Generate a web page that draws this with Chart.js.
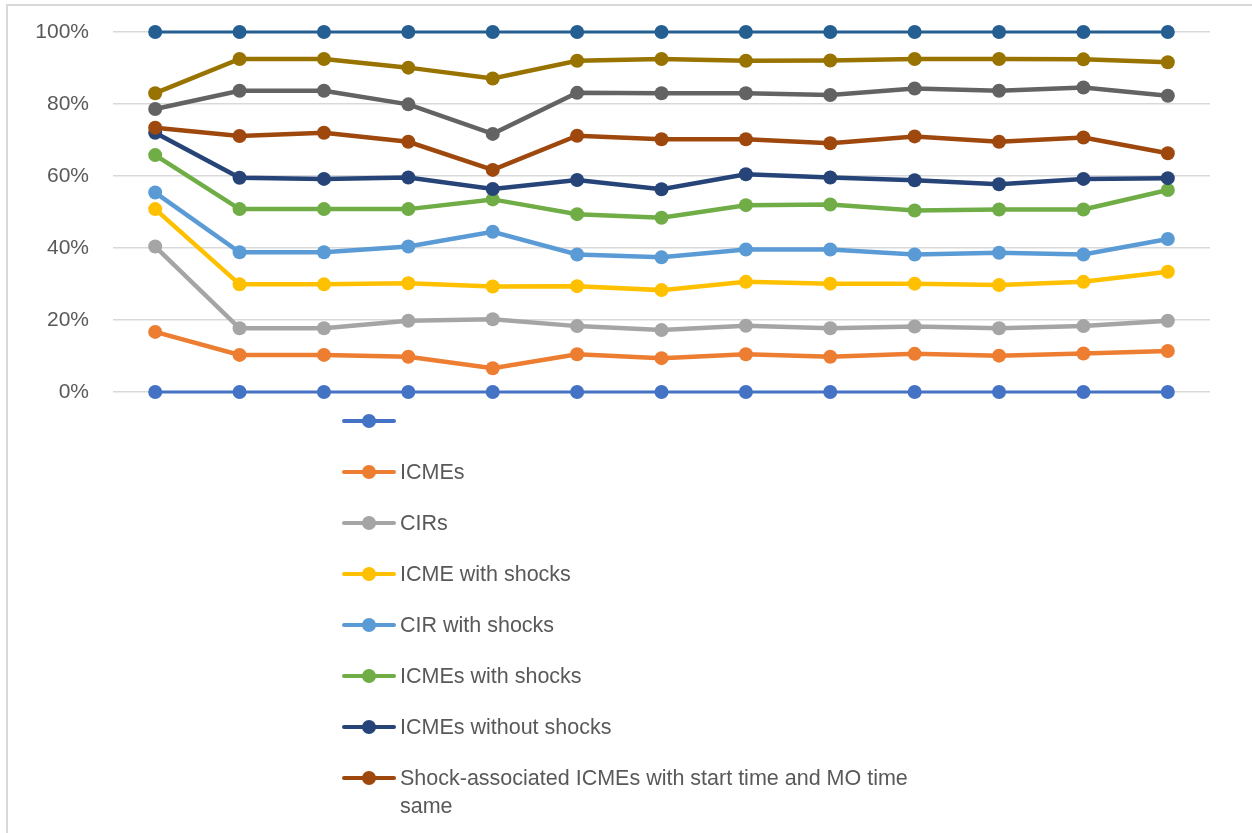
<!DOCTYPE html>
<html>
<head>
<meta charset="utf-8">
<script src="https://cdn.jsdelivr.net/npm/chart.js@4/dist/chart.umd.min.js"></script>
<style>
  html, body { margin: 0; padding: 0; background: #fff; overflow: hidden; }
  #wrap { position: relative; width: 1252px; height: 833px; }
  #frame { position: absolute; left: 6px; top: 4px; width: 1400px; height: 1000px;
           border: 2px solid #d9d9d9; box-sizing: border-box; }
  #chart { position: absolute; left: 0; top: 0; }
  #legend { position: absolute; left: 342px; top: 407px; color: #595959;
            font-family: 'Liberation Sans', Arial, sans-serif; font-size: 21.5px; }
  .item { display: flex; align-items: flex-start; min-height: 51px; line-height: 28px; }
  .mark { position: relative; flex: none; width: 54px; height: 28px; margin-right: 4px; }
  .mark::before { content: ''; position: absolute; left: 0; right: 0; top: 12px; height: 4px;
                  border-radius: 2px; background: var(--c); }
  .mark::after { content: ''; position: absolute; left: 20px; top: 7px; width: 14px; height: 14px;
                 border-radius: 50%; background: var(--c); }
  .text { max-width: 540px; }
</style>
</head>
<body>
<div id="wrap">
  <div id="frame"></div>
  <canvas id="chart" width="1252" height="833"></canvas>
  <div id="legend"></div>
</div>
<script>
// 13 unlabeled categories along x
const categories = ['', '', '', '', '', '', '', '', '', '', '', '', ''];

// values in percent
const zeroLine = [0, 0, 0, 0, 0, 0, 0, 0, 0, 0, 0, 0, 0];
const icmes = [16.7, 10.3, 10.3, 9.8, 6.6, 10.5, 9.4, 10.5, 9.8, 10.6, 10.1, 10.7, 11.4];
const cirs = [40.4, 17.7, 17.7, 19.8, 20.2, 18.3, 17.2, 18.4, 17.7, 18.2, 17.7, 18.3, 19.8];
const icmeWithShocks = [50.8, 29.9, 29.9, 30.2, 29.3, 29.4, 28.3, 30.6, 30.1, 30.1, 29.7, 30.6, 33.4];
const cirWithShocks = [55.4, 38.8, 38.8, 40.4, 44.5, 38.2, 37.4, 39.6, 39.6, 38.2, 38.7, 38.2, 42.5];
const icmesWithShocks = [65.8, 50.8, 50.8, 50.8, 53.5, 49.4, 48.4, 51.9, 52.1, 50.4, 50.7, 50.7, 56.1];
const icmesWithoutShocks = [72.0, 59.5, 59.2, 59.6, 56.4, 58.9, 56.3, 60.5, 59.6, 58.8, 57.7, 59.2, 59.4];
const shockSameTime = [73.4, 71.1, 72.0, 69.5, 61.7, 71.2, 70.2, 70.2, 69.1, 71.0, 69.5, 70.7, 66.3];
const series9 = [78.6, 83.7, 83.7, 79.9, 71.7, 83.1, 83.0, 83.0, 82.5, 84.3, 83.7, 84.6, 82.3];
const series10 = [83.0, 92.5, 92.5, 90.1, 87.1, 92.0, 92.5, 92.0, 92.1, 92.5, 92.5, 92.4, 91.6];
const topLine = [100, 100, 100, 100, 100, 100, 100, 100, 100, 100, 100, 100, 100];

// the last three legend entries are cut off in the original, names unknown
const seriesNames = ['', 'ICMEs', 'CIRs', 'ICME with shocks', 'CIR with shocks', 'ICMEs with shocks',
  'ICMEs without shocks', 'Shock-associated ICMEs with start time and MO time same', '', '', ''];
const seriesData = [zeroLine, icmes, cirs, icmeWithShocks, cirWithShocks, icmesWithShocks,
  icmesWithoutShocks, shockSameTime, series9, series10, topLine];

const yTicks = [0, 20, 40, 60, 80, 100];

const colors = ['#4472C4', '#ED7D31', '#A5A5A5', '#FFC000', '#5B9BD5', '#70AD47',
  '#264478', '#9E480E', '#636363', '#997300', '#255E91'];
const widths = [3, 4.5, 4.5, 4.5, 4.5, 4.5, 4.5, 4.5, 4.5, 4.5, 3];
const legendShown = 8;

const datasets = seriesData.map((d, i) => ({
  label: seriesNames[i],
  data: d,
  borderColor: colors[i],
  backgroundColor: colors[i],
  borderWidth: widths[i],
  pointRadius: 7,
  pointBorderWidth: 0,
  pointBackgroundColor: colors[i],
  tension: 0,
  clip: false,
  order: seriesData.length - i   // later series drawn on top, like Excel
}));

// html legend, one entry per row
const htmlLegend = {
  id: 'htmlLegend',
  afterUpdate(chart) {
    const box = document.getElementById('legend');
    box.innerHTML = '';
    chart.data.datasets.slice(0, legendShown).forEach(ds => {
      const row = document.createElement('div');
      row.className = 'item';
      const mark = document.createElement('span');
      mark.className = 'mark';
      mark.style.setProperty('--c', ds.borderColor);
      const txt = document.createElement('span');
      txt.className = 'text';
      txt.textContent = ds.label;
      row.appendChild(mark);
      row.appendChild(txt);
      box.appendChild(row);
    });
  }
};

new Chart(document.getElementById('chart').getContext('2d'), {
  type: 'line',
  data: { labels: categories, datasets: datasets },
  options: {
    responsive: false,
    animation: false,
    layout: { padding: { left: 0, right: 42, top: 32, bottom: 441 } },
    plugins: { legend: { display: false }, tooltip: { enabled: false } },
    scales: {
      x: { display: false, offset: true },
      y: {
        min: 0,
        max: 100,
        afterFit: scale => { scale.width = 113; },
        afterBuildTicks: scale => { scale.ticks = yTicks.map(v => ({ value: v })); },
        // invisible tick marks give the gap between labels and plot
        grid: { color: '#d9d9d9', lineWidth: 1.5, drawTicks: true, tickLength: 21, tickColor: 'rgba(0,0,0,0)' },
        border: { display: false },
        ticks: {
          padding: 3,
          color: '#595959',
          font: { family: 'Liberation Sans', size: 21 },
          callback: v => v + '%'
        }
      }
    }
  },
  plugins: [htmlLegend]
});
</script>
</body>
</html>
